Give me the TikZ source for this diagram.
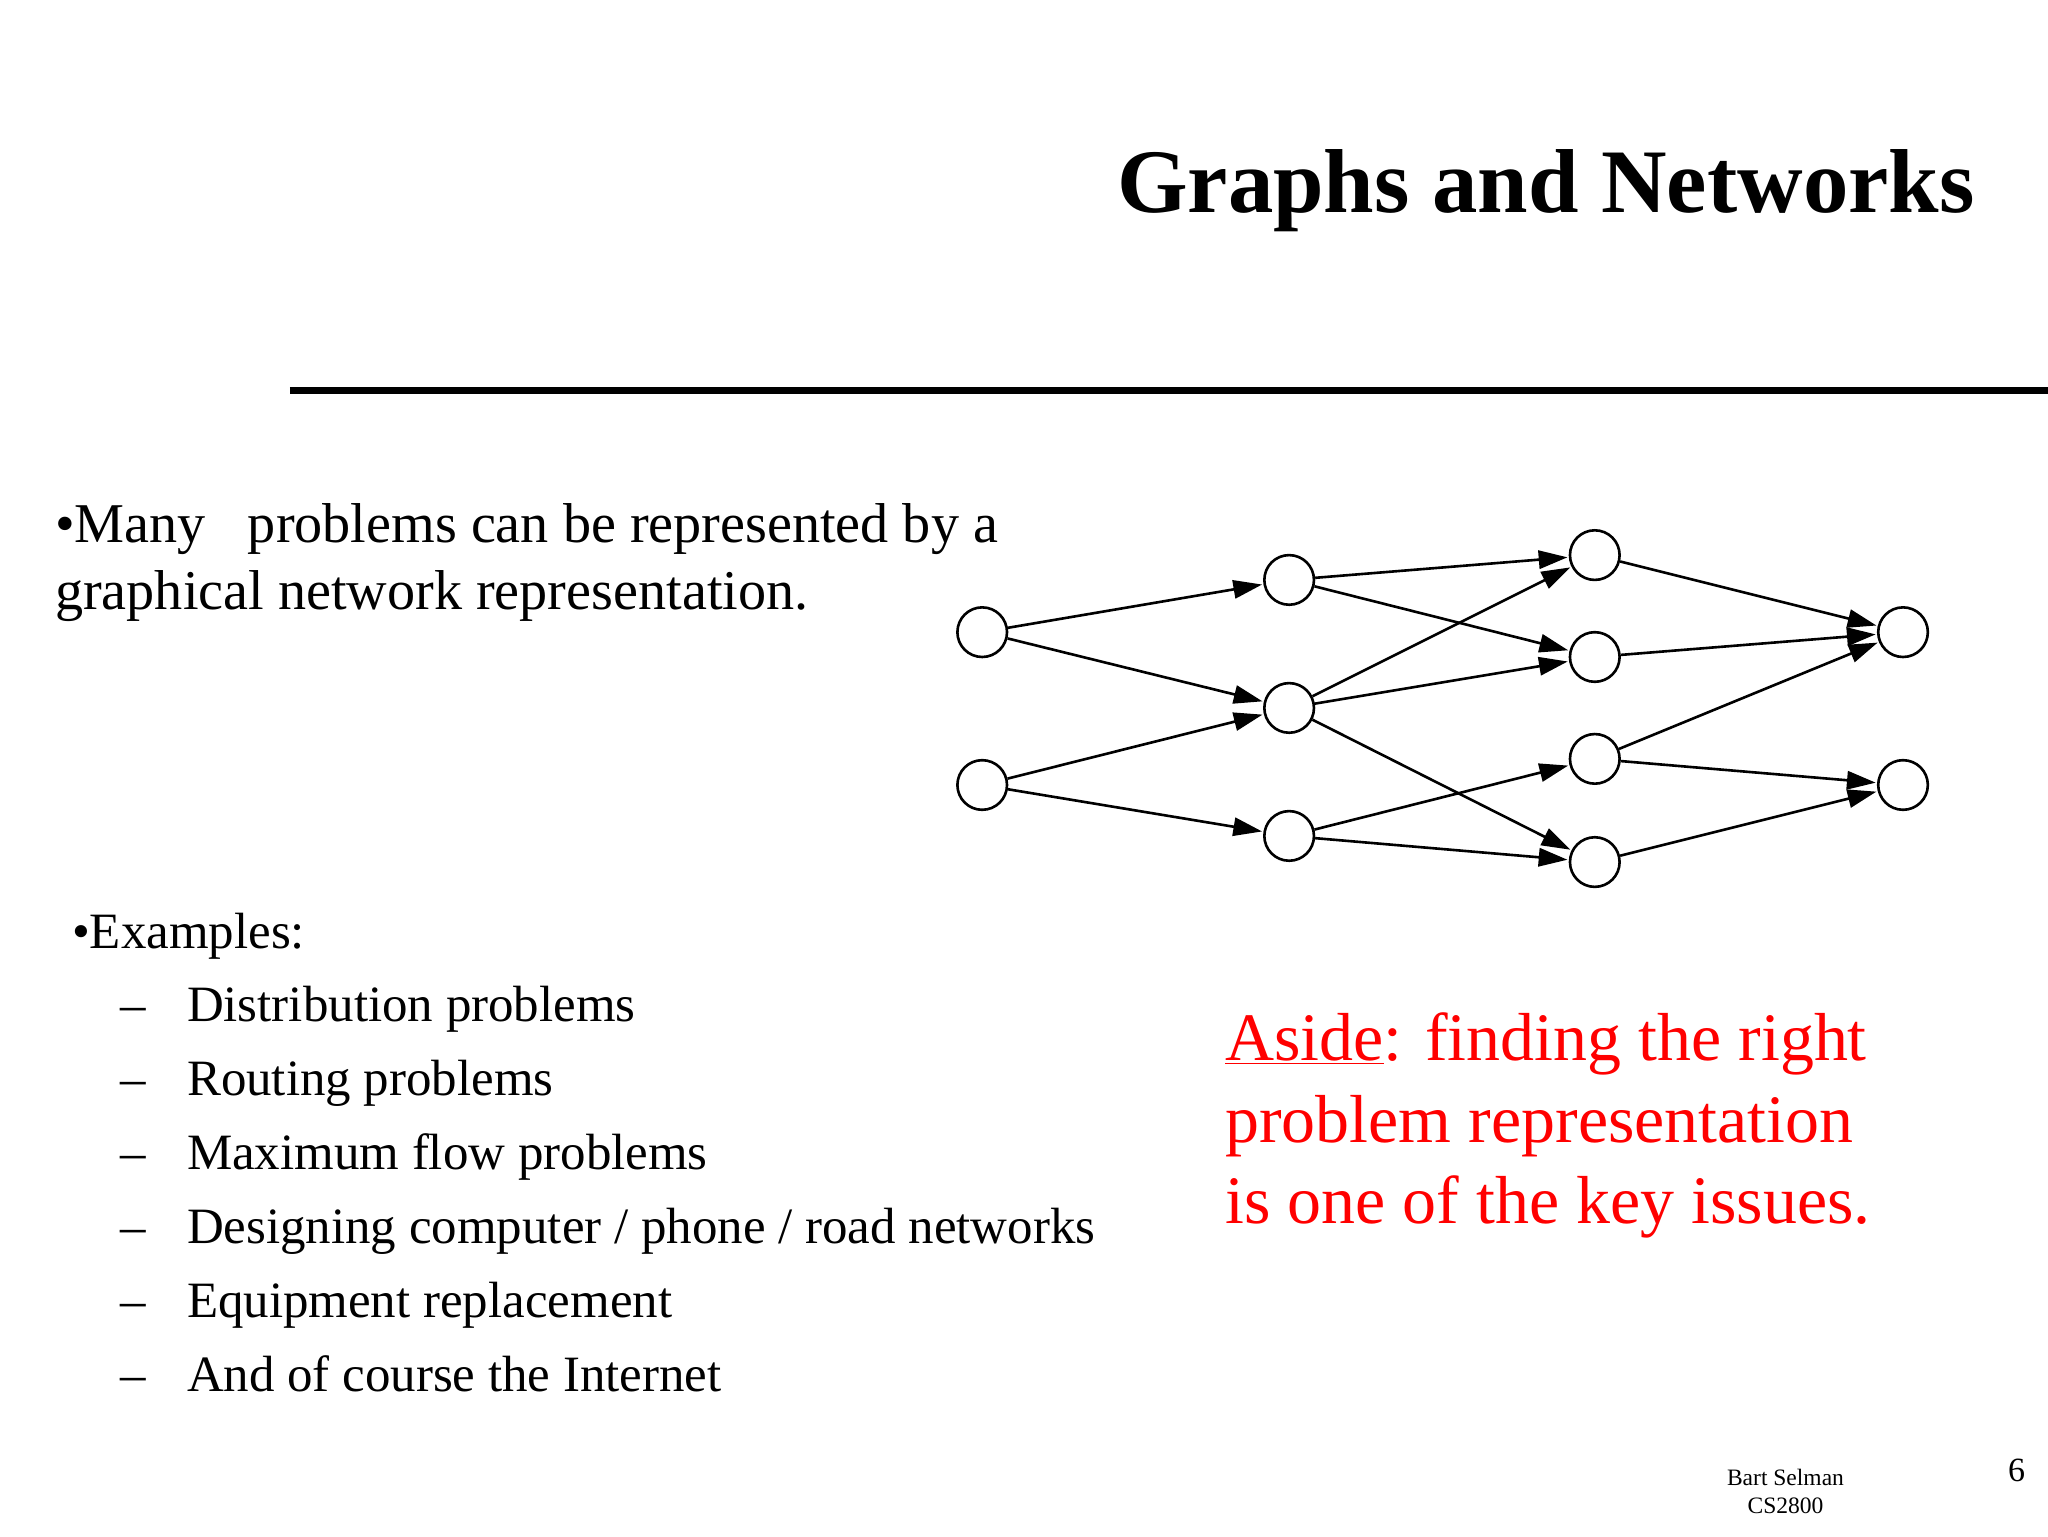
\documentclass[tikz,border=0pt]{standalone}
\usepackage{fontspec}
\setmainfont{Liberation Serif}
\usetikzlibrary{arrows.meta}
\begin{document}
\begin{tikzpicture}[x=1pt,y=-1pt,
  vtx/.style={circle,draw,line width=2pt,minimum size=38pt,inner sep=0pt},
  edge/.style={line width=2pt,-{Triangle[length=22pt,width=14pt]},shorten >=1pt},
  body/.style={anchor=base west,inner sep=0pt,font=\fontsize{39}{46}\selectfont},
  big/.style={anchor=base west,inner sep=0pt,font=\fontsize{43}{50}\selectfont},
  red/.style={anchor=base west,inner sep=0pt,text=red,font=\fontsize{52}{60}\selectfont}]
\useasboundingbox[fill=white] (0,0) rectangle (1568,1176);
\node[anchor=base east,inner sep=0pt,font=\fontsize{69.5}{72}\selectfont\bfseries] (title) at (1512,163) {Graphs and Networks};
\coordinate (r1) at (222,299); \coordinate (r2) at (1568,299);
\draw[line width=5pt] (r1) -- (r2);
\node[big] (t1) at (42,415) {•Many\ \ \ problems can be represented by a};
\node[big] (t2) at (42,467) {graphical network representation.};
\node[body] (ex) at (55,726) {•Examples:};
\foreach \t [count=\i] in {Distribution problems,Routing problems,Maximum flow problems,Designing computer / phone / road networks,Equipment replacement,And of course the Internet}{
  \node[body] (d\i) at (92,{782+(\i-1)*56.6}) {–};
  \node[body] (e\i) at (143,{782+(\i-1)*56.6}) {\t};
}
\node[red] (a1) at (938,812) {\underline{Aside}: finding the right};
\node[red] (a2) at (938,875) {problem representation};
\node[red] (a3) at (938,937) {is one of the key issues.};
\node[anchor=center,font=\fontsize{18}{20}\selectfont] (f1) at (1367,1131) {Bart Selman};
\node[anchor=center,font=\fontsize{18}{20}\selectfont] (f2) at (1367,1153) {CS2800};
\node[anchor=center,font=\fontsize{26}{28}\selectfont] (pg) at (1544,1126) {6};
\node[vtx] (A1) at (752,484) {}; \node[vtx] (A2) at (752,601) {};
\node[vtx] (B1) at (987,444) {}; \node[vtx] (B2) at (987,542) {}; \node[vtx] (B3) at (987,640) {};
\node[vtx] (C1) at (1221,425) {}; \node[vtx] (C2) at (1221,503) {}; \node[vtx] (C3) at (1221,581) {}; \node[vtx] (C4) at (1221,660) {};
\node[vtx] (D1) at (1457,484) {}; \node[vtx] (D2) at (1457,601) {};
\foreach \a/\b in {A1/B1,A1/B2,A2/B2,A2/B3,B1/C1,B1/C2,B2/C1,B2/C2,B2/C4,B3/C3,B3/C4,C1/D1,C2/D1,C3/D1,C3/D2,C4/D2}
  \draw[edge] (\a) -- (\b);
\end{tikzpicture}
\end{document}
